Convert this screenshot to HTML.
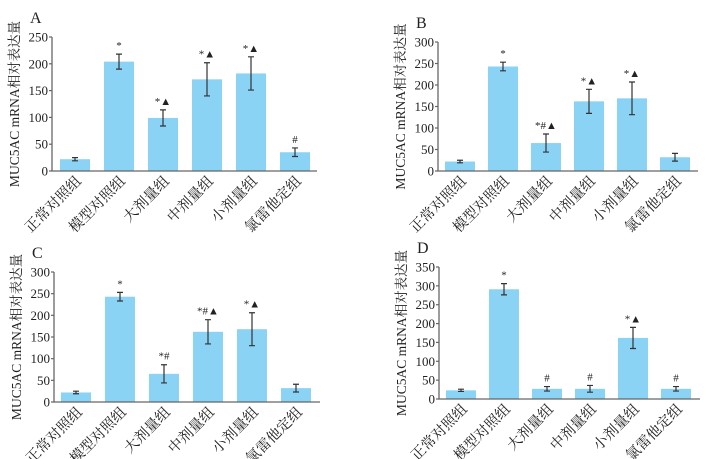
<!DOCTYPE html>
<html><head><meta charset="utf-8"><style>
html,body{margin:0;padding:0;background:#fff;}
svg{display:block;font-family:"Liberation Serif","Noto Serif CJK SC",serif;}
</style></head><body>
<svg id="chart" width="715" height="459" viewBox="0 0 715 459"></svg>
<script>
const categories = ["正常对照组","模型对照组","大剂量组","中剂量组","小剂量组","氯雷他定组"];
const valuesA = [22,204,99,171,182,35];
const errorsA = [3,14,15,31,31,8];
const marksA = ["","*","*▲","*▲","*▲","#"];
const ticksA = [0,50,100,150,200,250];
const valuesB = [22,243,65,162,169,32];
const errorsB = [3,10,21,28,38,9];
const marksB = ["","*","*#▲","*▲","*▲",""];
const ticksB = [0,50,100,150,200,250,300];
const valuesC = [22,243,65,162,168,32];
const errorsC = [3,10,21,28,38,9];
const marksC = ["","*","*#","*#▲","*▲",""];
const ticksC = [0,50,100,150,200,250,300];
const valuesD = [23,291,27,27,162,27];
const errorsD = [3,15,6,9,28,6];
const marksD = ["","*","#","#","*▲","#"];
const ticksD = [0,50,100,150,200,250,300,350];

const svg = document.getElementById('chart');
const NS = 'http://www.w3.org/2000/svg';
function mk(tag, attrs, parent, text){
  const e = document.createElementNS(NS, tag);
  for (const k in attrs) e.setAttribute(k, attrs[k]);
  if (text !== undefined) e.textContent = text;
  parent.appendChild(e);
  return e;
}
function panel(letter, vals, errs, marks, ticks, ax, y0, yTop, xEnd, bx0, step){
  const g = mk('g', {}, svg);
  
  
  const maxT = ticks[ticks.length-1];
  const yS = v => y0 - v/maxT*(y0-yTop);
  const xS = i => bx0 + i*step;
  const bw = 30;
  const t = mk('text', {x: ax-22, y: yTop-14, 'font-size': 16, fill:'#222'}, g, letter);
  
  
  const yt = mk('text', {x:0, y:0, 'font-size': 13.5, fill:'#222', 'text-anchor':'middle',
    transform:`translate(${ax-33},${(y0+yTop)/2}) rotate(-90)`}, g, 'MUC5AC mRNA相对表达量');
  
  
  vals.forEach((v,i)=>{
    const x = xS(i);
    const r = mk('rect', {x:x, y:yS(v), width:bw, height:y0-yS(v), fill:'#8ad3f4'}, g);
    
    
    const cx = x + bw/2, e = errs[i];
    const eb = mk('path', {d:`M${cx},${yS(v+e)}V${yS(v-e)}M${cx-3},${yS(v+e)}H${cx+3}M${cx-3},${yS(v-e)}H${cx+3}`, stroke:'#333', 'stroke-width':1.2, fill:'none'}, g);
    
    
    if (marks[i]) {
      const m = mk('text', {x:cx, y:yS(v+e)-5, 'font-size':11, 'text-anchor':'middle', fill:'#222'}, g, marks[i]);
      
      
    }
    const lb = mk('text', {x:0, y:0, 'font-size':14.5, 'text-anchor':'end', fill:'#222',
      transform:`translate(${cx+7},${y0+11}) rotate(-45)`}, g, categories[i]);
    
    
  });
  const axis = mk('path', {d:`M${ax},${yTop}V${y0}H${xEnd}`, stroke:'#666', 'stroke-width':1.3, fill:'none'}, g);
  
  
  ticks.forEach(tv=>{
    const y = yS(tv);
    mk('line', {x1:ax-3, x2:ax, y1:y, y2:y, stroke:'#666', 'stroke-width':1.2}, g);
    const tl = mk('text', {x:ax-4, y:y+4.5, 'font-size':13, 'text-anchor':'end', fill:'#222'}, g, tv);
    
    
  });
}
panel('A', valuesA, errorsA, marksA, ticksA, 52, 171, 37, 317, 60, 44);
panel('B', valuesB, errorsB, marksB, ticksB, 438, 171, 42, 698, 445, 43);
panel('C', valuesC, errorsC, marksC, ticksC, 54, 402, 272, 320, 61, 44);
panel('D', valuesD, errorsD, marksD, ticksD, 439, 399, 267, 700, 446, 43);
</script>
</body></html>
